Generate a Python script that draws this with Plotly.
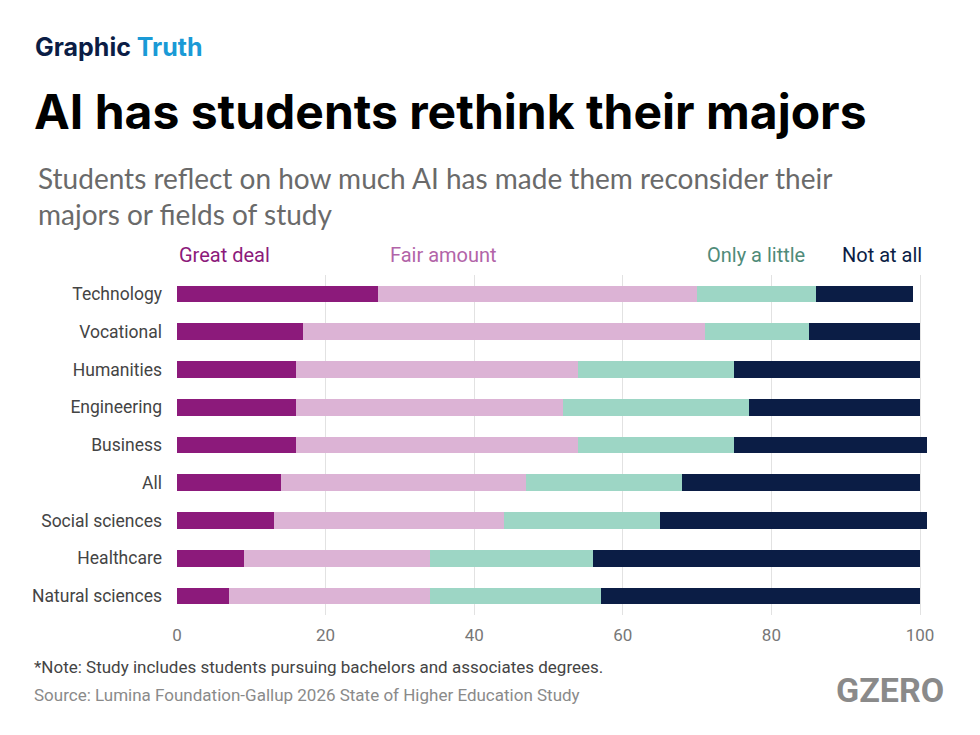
"""AI has students rethink their majors - stacked horizontal bars."""

import plotly.graph_objects as go

fields = [
    "Technology", "Vocational", "Humanities", "Engineering", "Business",
    "All", "Social sciences", "Healthcare", "Natural sciences",
]
great_deal = [27, 17, 16, 16, 16, 14, 13, 9, 7]
fair_amount = [43, 54, 38, 36, 38, 33, 31, 25, 27]
only_a_little = [16, 14, 21, 25, 21, 21, 21, 22, 23]
not_at_all = [13, 15, 25, 23, 26, 32, 36, 44, 43]

series = [
    ("Great deal", great_deal, "#8c1a7b", "#8c1a7b"),
    ("Fair amount", fair_amount, "#dcb3d5", "#b264a8"),
    ("Only a little", only_a_little, "#9dd6c5", "#4f8b79"),
    ("Not at all", not_at_all, "#0b1d45", "#0b1d45"),
]
legend_x = [0, 28.4, 71.1, 89.2]

# the page puts the figure 8px in from the window corner
OFF = 8
W, H = 980 - OFF, 735 - OFF
# plot area, window pixels (0 at x=177, 100 at x=920)
L, R, T, B = 177, 930, 275, 615
X_MAX = (R - L) / 7.43


def px(x):
    return (x - L) / (R - L)


def py(y):
    return (B - y) / (B - T)


fig = go.Figure()
for name, vals, color, _ in series:
    fig.add_trace(
        go.Bar(
            y=fields,
            x=vals,
            name=name,
            orientation="h",
            marker=dict(color=color, line=dict(width=0)),
            hovertemplate="%{y}: %{x}<extra>" + name + "</extra>",
        )
    )

annotations = [
    dict(x=px(33), y=py(47), text="<b>Graphic <span style='color:#1a9ad6'>Truth</span></b>",
         font=dict(family="Inter", size=25, color="#0b1d45")),
    dict(x=px(32), y=py(112), text="<b>AI has students rethink their majors</b>",
         font=dict(family="Inter", size=48, color="#000000")),
    dict(x=px(36), y=py(196),
         text="Students reflect on how much AI has made them reconsider their<br>majors or fields of study",
         font=dict(family="Lato", size=28, color="#6a6a6a")),
    dict(x=px(32), y=py(667),
         text="*Note: Study includes students pursuing bachelors and associates degrees.",
         font=dict(family="Roboto", size=17, color="#444444")),
    dict(x=px(32), y=py(695),
         text="Source: Lumina Foundation-Gallup 2026 State of Higher Education Study",
         font=dict(family="Roboto", size=17, color="#8a8a8a")),
]
for a in annotations:
    a.update(xref="paper", yref="paper", xanchor="left", yanchor="middle",
             showarrow=False, align="left")

annotations.append(dict(
    x=px(946), y=py(690), xref="paper", yref="paper", xanchor="right", yanchor="middle",
    text="<b>GZERO</b>", showarrow=False,
    font=dict(family="Roboto", size=34, color="#8a8a8a"),
))

for (name, _, _, text_color), lx in zip(series, legend_x):
    annotations.append(dict(
        x=lx, y=py(255), xref="x", yref="paper", xanchor="left", yanchor="middle",
        text=name, showarrow=False,
        font=dict(family="Roboto", size=20, color=text_color),
    ))

fig.update_layout(
    width=W,
    height=H,
    barmode="stack",
    bargap=0.56,
    showlegend=False,
    plot_bgcolor="white",
    paper_bgcolor="white",
    margin=dict(l=L - OFF, r=980 - R, t=T - OFF, b=735 - B, pad=0),
    annotations=annotations,
    xaxis=dict(
        range=[0, X_MAX],
        tickvals=[0, 20, 40, 60, 80, 100],
        showgrid=True,
        gridcolor="#e2e2e2",
        gridwidth=1,
        zeroline=False,
        ticks="",
        ticklabelstandoff=8,
        tickfont=dict(family="Roboto", size=17, color="#777777"),
        fixedrange=True,
    ),
    yaxis=dict(
        categoryorder="array",
        categoryarray=fields,
        autorange="reversed",
        showgrid=False,
        ticks="",
        ticklabelstandoff=14,
        tickfont=dict(family="Roboto", size=17.5, color="#444444"),
        fixedrange=True,
    ),
)

fig.write_html("out.html", config={"displayModeBar": False})
